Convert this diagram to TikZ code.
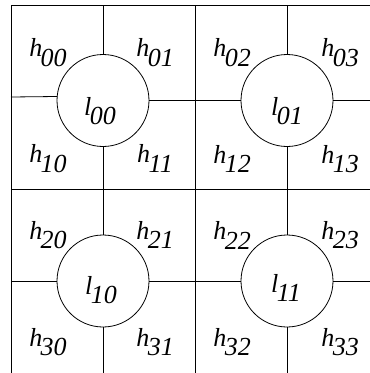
\documentclass[tikz,border=0pt]{standalone}
\usepackage{fontspec}
\setmainfont{Liberation Serif}
\newcommand\sublab[2]{\itshape #1\kern-1.5pt\raisebox{-9.5pt}{#2}}
\begin{document}
\begin{tikzpicture}[x=1pt,y=-1pt,
  gridline/.style={line width=0.8pt,black},
  cell/.style={circle,draw,line width=0.8pt,minimum size=92pt,inner sep=0pt,outer sep=0pt},
  lab/.style={inner sep=0pt,font=\fontsize{26}{30}\selectfont}]
\useasboundingbox (0,0) rectangle (370,373);
% grid corner / edge points
\coordinate (tl) at (11,5);
\coordinate (tr) at (370,5);
\coordinate (bl) at (11,373);
\coordinate (ml) at (11,189);
\coordinate (mr) at (370,189);
\coordinate (mt) at (195,5);
\coordinate (mb) at (195,373);
\coordinate (n00) at (103,5);
\coordinate (n01) at (287,5);
\coordinate (w00) at (11,97);
\coordinate (e01) at (370,100.5);
\coordinate (w10) at (11,281);
\coordinate (e11) at (370,281);
\coordinate (s10) at (103,373);
\coordinate (s11) at (287,373);
% circles
\node[cell] (c00) at (103,100.5) {};
\node[cell] (c01) at (287,100.5) {};
\node[cell] (c10) at (103,281) {};
\node[cell] (c11) at (287,281) {};
% outer lines
\draw[gridline] (bl) -- (tl) -- (tr);
\draw[gridline] (ml) -- (mr);
\draw[gridline] (mt) -- (mb);
% spokes
\draw[gridline] (c00) -- (c01);
\draw[gridline] (c10) -- (c11);
\draw[gridline] (c00) -- (c10);
\draw[gridline] (c01) -- (c11);
\draw[gridline] (c00) -- (n00);
\draw[gridline] (c01) -- (n01);
\draw[gridline] (w00) -- (c00.175.9);
\draw[gridline] (c01) -- (e01);
\draw[gridline] (c10) -- (w10);
\draw[gridline] (c11) -- (e11);
\draw[gridline] (c10) -- (s10);
\draw[gridline] (c11) -- (s11);
% labels
\node[lab] (h00) at (48,52.5) {\sublab{h}{00}};
\node[lab] (h01) at (155,52.5) {\sublab{h}{01}};
\node[lab] (h02) at (232,52.5) {\sublab{h}{02}};
\node[lab] (h03) at (340,52.5) {\sublab{h}{03}};
\node[lab] (h10) at (48,158.5) {\sublab{h}{10}};
\node[lab] (h11) at (155,158.5) {\sublab{h}{11}};
\node[lab] (h12) at (232,159) {\sublab{h}{12}};
\node[lab] (h13) at (340,159) {\sublab{h}{13}};
\node[lab] (h20) at (48,235) {\sublab{h}{20}};
\node[lab] (h21) at (155,235) {\sublab{h}{21}};
\node[lab] (h22) at (232,235.5) {\sublab{h}{22}};
\node[lab] (h23) at (340,235) {\sublab{h}{23}};
\node[lab] (h30) at (48,342) {\sublab{h}{30}};
\node[lab] (h31) at (155,342) {\sublab{h}{31}};
\node[lab] (h32) at (232,342) {\sublab{h}{32}};
\node[lab] (h33) at (340,342) {\sublab{h}{33}};
\node[lab] (l00) at (100,111) {\sublab{l}{00}};
\node[lab] (l01) at (287,111) {\sublab{l}{01}};
\node[lab] (l10) at (101,290) {\sublab{l}{10}};
\node[lab] (l11) at (286,288) {\sublab{l}{11}};
\end{tikzpicture}
\end{document}
